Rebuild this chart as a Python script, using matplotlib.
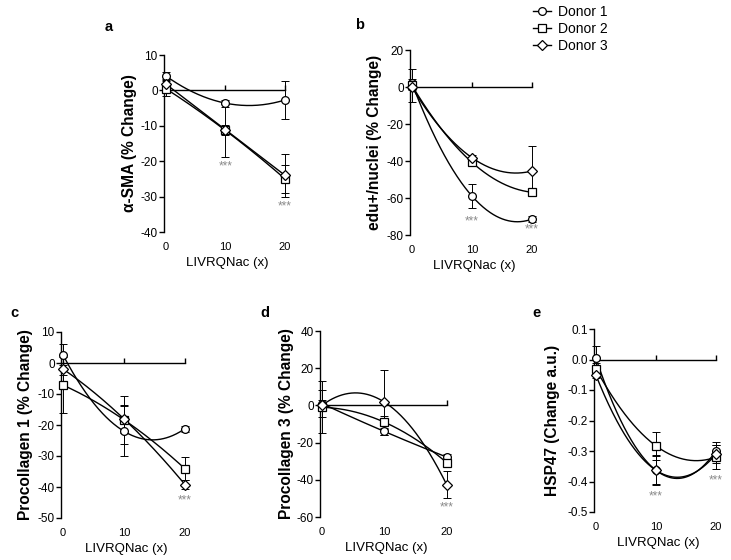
import numpy as np
import matplotlib
matplotlib.use("Agg")
import matplotlib.pyplot as plt

plt.rcParams['font.family'] = ['Liberation Sans', 'DejaVu Sans']

# doses
dose = [0, 10, 20]
donors = ["Donor 1", "Donor 2", "Donor 3"]
markers = ["o", "s", "D"]

# panel a: alpha-SMA
a_d1 = [4.1, -3.6, -2.7]
a_d2 = [0.5, -11.3, -25.0]
a_d3 = [1.8, -11.1, -24.0]
a_e1 = [1.0, 1.0, 5.4]
a_e2 = [2.2, 7.4, 4.0]
a_e3 = [1.0, 1.4, 6.0]

# panel b: edu+/nuclei
b_d1 = [2.3, -58.9, -71.4]
b_d2 = [1.0, -40.7, -56.9]
b_d3 = [0.0, -38.2, -45.4]
b_e1 = [2.0, 6.7, 1.5]
b_e2 = [9.0, 2.0, 1.5]
b_e3 = [1.5, 1.5, 13.5]

# panel c: procollagen 1
c_d1 = [2.7, -22.0, -21.2]
c_d2 = [-7.1, -18.3, -34.1]
c_d3 = [-1.9, -18.0, -39.2]
c_e1 = [3.5, 8.0, 1.0]
c_e2 = [9.0, 7.7, 3.8]
c_e3 = [2.0, 4.5, 1.6]

# panel d: procollagen 3
d_d1 = [1.0, -14.0, -27.8]
d_d2 = [-1.0, -9.0, -30.8]
d_d3 = [0.0, 1.8, -42.7]
d_e1 = [7.5, 2.0, 1.5]
d_e2 = [14.0, 3.5, 2.0]
d_e3 = [3.0, 17.5, 7.2]

# panel e: HSP47
e_d1 = [0.005, -0.363, -0.300]
e_d2 = [-0.03, -0.283, -0.320]
e_d3 = [-0.05, -0.363, -0.310]
e_e1 = [0.04, 0.045, 0.03]
e_e2 = [0.02, 0.045, 0.04]
e_e3 = [0.01, 0.05, 0.03]

# significance markers (x, y)
a_sig = [(10, -21.5), (20, -32.8)]
b_sig = [(10, -72.4), (20, -77.0)]
c_sig = [(20, -44.3)]
d_sig = [(20, -54.6)]
e_sig = [(10, -0.45), (20, -0.396)]

panels = [
    dict(letter="a", rect=[164, 55, 291, 232], ylim=(-40, 10), yticks=[10, 0, -10, -20, -30, -40],
         ylabel="α-SMA (% Change)", means=[a_d1, a_d2, a_d3], errs=[a_e1, a_e2, a_e3],
         sig=a_sig, lpos=(105, 27), ylx=-0.21, fmt="%d"),
    dict(letter="b", rect=[410, 50, 538, 235], ylim=(-80, 20), yticks=[20, 0, -20, -40, -60, -80],
         ylabel="edu+/nuclei (% Change)", means=[b_d1, b_d2, b_d3], errs=[b_e1, b_e2, b_e3],
         sig=b_sig, lpos=(355, 25), ylx=-0.22, fmt="%d"),
    dict(letter="c", rect=[61, 332, 191, 518], ylim=(-50, 10), yticks=[10, 0, -10, -20, -30, -40, -50],
         ylabel="Procollagen 1 (% Change)", means=[c_d1, c_d2, c_d3], errs=[c_e1, c_e2, c_e3],
         sig=c_sig, lpos=(10, 313), ylx=-0.215, fmt="%d"),
    dict(letter="d", rect=[320, 331, 453, 517], ylim=(-60, 40), yticks=[40, 20, 0, -20, -40, -60],
         ylabel="Procollagen 3 (% Change)", means=[d_d1, d_d2, d_d3], errs=[d_e1, d_e2, d_e3],
         sig=d_sig, lpos=(260, 313), ylx=-0.195, fmt="%d"),
    dict(letter="e", rect=[594, 329, 722, 512], ylim=(-0.5, 0.1),
         yticks=[0.1, 0.0, -0.1, -0.2, -0.3, -0.4, -0.5],
         ylabel="HSP47 (Change a.u.)", means=[e_d1, e_d2, e_d3], errs=[e_e1, e_e2, e_e3],
         sig=e_sig, lpos=(532, 313), ylx=-0.265, fmt="%.1f"),
]

W, H = 731, 560
fig = plt.figure(figsize=(W / 100, H / 100), dpi=100)

xs = np.linspace(0, 20, 200)
for p in panels:
    x0, y0, x1, y1 = p["rect"]
    ax = fig.add_axes([x0 / W, 1 - y1 / H, (x1 - x0) / W, (y1 - y0) / H])
    ax.set_xlim(-0.3, 21)
    ax.set_ylim(*p["ylim"])
    for m, e, mk, name in zip(p["means"], p["errs"], markers, donors):
        # second order polynomial fit through the three doses
        coef = np.polyfit(dose, m, 2)
        ax.plot(xs, np.polyval(coef, xs), color="black", lw=1.0, zorder=2, clip_on=False)
        ax.errorbar(dose, m, yerr=e, fmt="none", ecolor="black", elinewidth=0.7,
                    capsize=3, capthick=0.7, zorder=3, clip_on=False)
        ms = 4.8 if mk == "D" else 5.6
        ax.plot(dose, m, lw=0, marker=mk, ms=ms, mfc="white",
                mec="black", mew=0.9, zorder=4, clip_on=False)
    for sx, sy in p["sig"]:
        ax.text(sx, sy, "***", color="#8a8a8a", fontsize=8.5, ha="center", va="center")

    # y axis
    ax.spines["top"].set_visible(False)
    ax.spines["right"].set_visible(False)
    ax.spines["left"].set_linewidth(1.0)
    ax.set_yticks(p["yticks"])
    ax.yaxis.set_major_formatter(matplotlib.ticker.FormatStrFormatter(p["fmt"]))
    ax.tick_params(axis="y", direction="out", length=3.5, width=1.0, labelsize=8.5, pad=1)
    ax.set_ylabel(p["ylabel"], fontsize=11.2, fontweight="bold")
    ax.yaxis.set_label_coords(p["ylx"], 0.5)

    # zero line with ticks, labels at bottom
    ax.spines["bottom"].set_position(("data", 0))
    ax.spines["bottom"].set_bounds(-0.3, 20)
    ax.spines["bottom"].set_linewidth(1.0)
    ax.set_xticks(dose)
    ax.tick_params(axis="x", direction="in", length=3.5, width=1.0, labelbottom=False)
    sec = ax.secondary_xaxis("bottom")
    sec.spines["bottom"].set_visible(False)
    sec.set_xticks(dose)
    sec.tick_params(axis="x", length=0, labelsize=8, pad=7)
    sec.set_xlabel("LIVRQNac (x)", fontsize=9.5, labelpad=4)

    fig.text(p["lpos"][0] / W, 1 - p["lpos"][1] / H, p["letter"], fontsize=10.5,
             fontweight="bold", ha="left", va="center")

# legend
leg_handles = [plt.Line2D([], [], color="black", lw=1.0, marker=mk, ms=(4.8 if mk == "D" else 5.6),
                          mfc="white", mec="black", mew=0.9) for mk in markers]
fig.legend(leg_handles, donors, loc="upper left", bbox_to_anchor=(533 / W, 1 - 5 / H),
           frameon=False, fontsize=10, handlelength=1.3, handletextpad=0.5,
           labelspacing=0.2, borderaxespad=0, borderpad=0)

fig.savefig("out.png", dpi=100)
